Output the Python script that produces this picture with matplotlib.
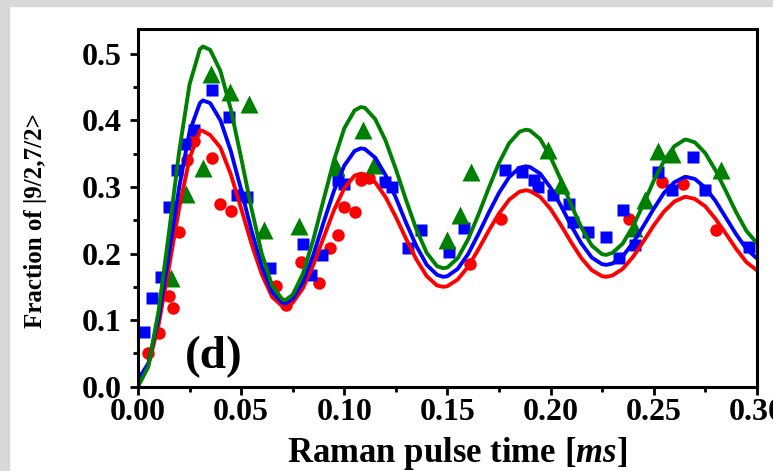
import numpy as np
import matplotlib
matplotlib.use("Agg")
from matplotlib import pyplot as plt
from matplotlib.ticker import MultipleLocator, FormatStrFormatter
from matplotlib.patches import Rectangle

# measured points (time in ms, fraction)
red_t = [0.005, 0.010, 0.015, 0.017, 0.020, 0.024, 0.027, 0.036, 0.040, 0.045,
         0.067, 0.072, 0.079, 0.088, 0.093, 0.097, 0.100, 0.105, 0.108, 0.112,
         0.161, 0.176, 0.238, 0.254, 0.264, 0.280]
red_y = [0.050, 0.081, 0.136, 0.118, 0.232, 0.340, 0.369, 0.343, 0.275, 0.264,
         0.152, 0.123, 0.188, 0.156, 0.208, 0.228, 0.270, 0.263, 0.311, 0.314,
         0.185, 0.252, 0.252, 0.308, 0.305, 0.236]

blue_t = [0.003, 0.007, 0.011, 0.015, 0.019, 0.023, 0.027, 0.036, 0.044, 0.048,
          0.053, 0.064, 0.080, 0.084, 0.089, 0.097, 0.100, 0.120, 0.123, 0.131,
          0.137, 0.151, 0.158, 0.178, 0.186, 0.192, 0.194, 0.201, 0.209, 0.211,
          0.218, 0.227, 0.233, 0.235, 0.241, 0.252, 0.259, 0.269, 0.275, 0.296]
blue_y = [0.082, 0.133, 0.165, 0.270, 0.325, 0.365, 0.385, 0.445, 0.405, 0.288,
          0.285, 0.178, 0.215, 0.168, 0.198, 0.310, 0.305, 0.308, 0.300, 0.208,
          0.235, 0.203, 0.238, 0.325, 0.323, 0.310, 0.300, 0.288, 0.275, 0.248,
          0.233, 0.225, 0.193, 0.265, 0.213, 0.323, 0.295, 0.345, 0.295, 0.210]

green_t = [0.016, 0.0235, 0.0315, 0.0355, 0.0445, 0.054, 0.061, 0.078, 0.096, 0.109,
           0.1145, 0.150, 0.156, 0.1615, 0.199, 0.205, 0.2405, 0.246, 0.252, 0.259,
           0.2825]
green_y = [0.163, 0.290, 0.328, 0.470, 0.443, 0.425, 0.235, 0.241, 0.330, 0.385,
           0.333, 0.220, 0.258, 0.322, 0.355, 0.303, 0.238, 0.281, 0.354, 0.349,
           0.325]

# fitted curves (every 0.005 ms plus the turning points)
fit_t = [0.000, 0.005, 0.010, 0.015, 0.020, 0.025, 0.030, 0.0315,
         0.035, 0.040, 0.045, 0.050, 0.055, 0.060, 0.065, 0.070, 0.0715,
         0.075, 0.080, 0.085, 0.090, 0.095, 0.100, 0.105, 0.108,
         0.110, 0.115, 0.120, 0.125, 0.130, 0.135, 0.140, 0.145, 0.148,
         0.150, 0.155, 0.160, 0.165, 0.170, 0.175, 0.180, 0.185, 0.188,
         0.190, 0.195, 0.200, 0.205, 0.210, 0.215, 0.220, 0.225, 0.227,
         0.230, 0.235, 0.240, 0.245, 0.250, 0.255, 0.260, 0.265, 0.266,
         0.270, 0.275, 0.280, 0.285, 0.290, 0.295, 0.300]
red_fit = [0.010, 0.032, 0.093, 0.179, 0.269, 0.343, 0.385, 0.384,
           0.378, 0.359, 0.319, 0.268, 0.215, 0.169, 0.135, 0.121, 0.120,
           0.126, 0.148, 0.183, 0.224, 0.265, 0.298, 0.317, 0.320,
           0.319, 0.307, 0.285, 0.255, 0.222, 0.191, 0.166, 0.152, 0.150,
           0.151, 0.161, 0.180, 0.206, 0.234, 0.260, 0.281, 0.293, 0.295,
           0.294, 0.285, 0.267, 0.243, 0.217, 0.193, 0.175, 0.166, 0.165,
           0.167, 0.177, 0.195, 0.218, 0.242, 0.263, 0.278, 0.285, 0.285,
           0.282, 0.271, 0.252, 0.230, 0.207, 0.187, 0.175]
blue_fit = [0.010, 0.035, 0.103, 0.199, 0.300, 0.383, 0.426, 0.430,
            0.426, 0.400, 0.354, 0.296, 0.235, 0.181, 0.142, 0.126, 0.125,
            0.132, 0.157, 0.198, 0.247, 0.294, 0.332, 0.354, 0.358,
            0.357, 0.344, 0.318, 0.284, 0.246, 0.211, 0.183, 0.168, 0.165,
            0.166, 0.177, 0.199, 0.229, 0.261, 0.291, 0.315, 0.329, 0.331,
            0.330, 0.320, 0.299, 0.272, 0.242, 0.215, 0.194, 0.184, 0.183,
            0.185, 0.196, 0.216, 0.241, 0.267, 0.291, 0.307, 0.315, 0.315,
            0.312, 0.299, 0.279, 0.254, 0.229, 0.207, 0.193]
green_fit = [0.000, 0.030, 0.114, 0.231, 0.354, 0.454, 0.507, 0.511,
             0.506, 0.474, 0.417, 0.344, 0.268, 0.200, 0.152, 0.131, 0.130,
             0.138, 0.170, 0.221, 0.281, 0.340, 0.388, 0.415, 0.420,
             0.419, 0.402, 0.370, 0.327, 0.280, 0.236, 0.201, 0.181, 0.178,
             0.179, 0.193, 0.221, 0.258, 0.298, 0.336, 0.366, 0.383, 0.386,
             0.385, 0.372, 0.345, 0.311, 0.273, 0.239, 0.212, 0.199, 0.198,
             0.201, 0.215, 0.241, 0.274, 0.309, 0.339, 0.361, 0.371, 0.371,
             0.367, 0.351, 0.325, 0.294, 0.262, 0.234, 0.216]

serif = ['Liberation Serif', 'DejaVu Serif']
plt.rcParams['font.family'] = serif
plt.rcParams['mathtext.fontset'] = 'custom'
plt.rcParams['mathtext.rm'] = 'Liberation Serif:bold'
plt.rcParams['mathtext.it'] = 'Liberation Serif:italic:bold'
plt.rcParams['mathtext.bf'] = 'Liberation Serif:bold'

fig = plt.figure(figsize=(7.73, 4.71), dpi=100)
ax = fig.add_axes([0.1785, 0.179, 0.8005, 0.759])

# grey scan border on the left and top
fig.patches.append(Rectangle((0, 0), 9 / 773, 1, transform=fig.transFigure,
                             color='#d9d9d9', zorder=-1))
fig.patches.append(Rectangle((0, 1 - 6 / 471), 1, 6 / 471, transform=fig.transFigure,
                             color='#d9d9d9', zorder=-1))

ax.plot(red_t, red_y, 'o', color='#ff0000', ms=9, mec='none')
ax.plot(blue_t, blue_y, 's', color='#0000ff', ms=9, mec='none')
ax.plot(green_t, green_y, '^', color='#008000', ms=13, mec='none')

ax.plot(fit_t, red_fit, color='#ff0000', lw=2.8)
ax.plot(fit_t, blue_fit, color='#0000ff', lw=2.8)
ax.plot(fit_t, green_fit, color='#008000', lw=2.8)

ax.set_xlim(0, 0.30)
ax.set_ylim(0, 0.537)

ax.xaxis.set_major_locator(MultipleLocator(0.05))
ax.xaxis.set_minor_locator(MultipleLocator(0.025))
ax.yaxis.set_major_locator(MultipleLocator(0.1))
ax.yaxis.set_minor_locator(MultipleLocator(0.05))
ax.xaxis.set_major_formatter(FormatStrFormatter('%.2f'))
ax.yaxis.set_major_formatter(FormatStrFormatter('%.1f'))

for s in ax.spines.values():
    s.set_linewidth(2.2)
ax.tick_params(which='both', direction='out', width=2, top=False, right=False)
ax.tick_params(which='major', length=5.5, labelsize=23)
ax.tick_params(axis='x', which='major', pad=3)
ax.tick_params(axis='y', which='major', pad=6)
ax.tick_params(which='minor', length=3.5)
for lab in ax.get_xticklabels() + ax.get_yticklabels():
    lab.set_fontweight('bold')

ax.set_xlabel(r'Raman pulse time [$\mathit{ms}$]', fontsize=25, fontweight='bold')
ax.xaxis.set_label_coords(0.515, -0.135)
ax.set_ylabel('Fraction of |9/2,7/2>', fontsize=18, fontweight='bold')
ax.yaxis.set_label_coords(-0.147, 0.466)

ax.text(0.0367, 0.0445, '(d)', fontsize=34, fontweight='bold', ha='center', va='center')

fig.savefig('out.png', dpi=100)
